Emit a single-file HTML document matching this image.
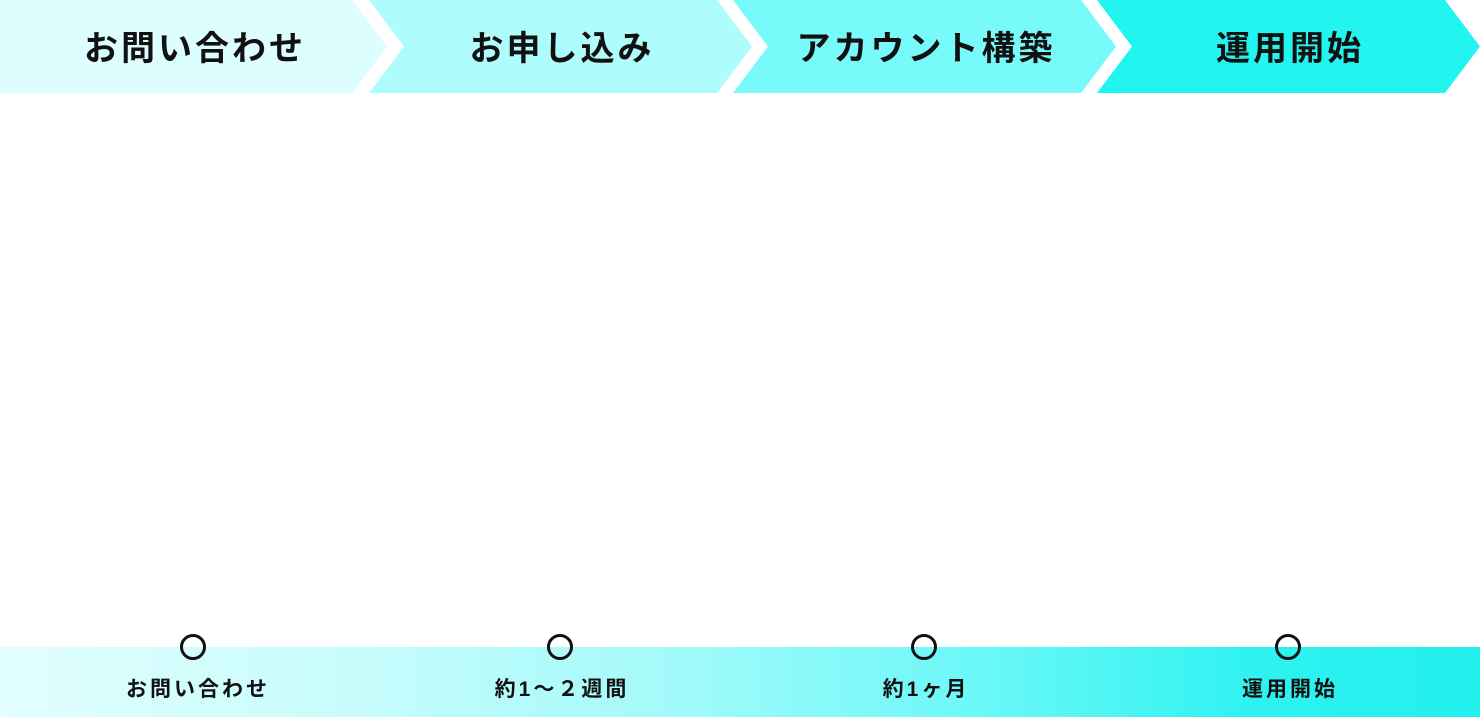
<!DOCTYPE html>
<html><head><meta charset="utf-8"><style>
body{margin:0;width:1480px;height:717px;background:#fff;position:relative;overflow:hidden;font-family:"Liberation Sans","Noto Sans CJK JP",sans-serif;font-weight:bold;color:#111}
.t{position:absolute;transform:translateX(-50%);white-space:nowrap}
.h{top:26px;font-size:34px;line-height:46px;letter-spacing:3px}
.b{top:677px;font-size:21px;line-height:26px;letter-spacing:3px}
.band{position:absolute;left:0;top:647px;width:1480px;height:70px;background:linear-gradient(90deg,#e2fefe 0%,#c6fcfc 25%,#a4fafa 45%,#6ef8f8 65%,#2ef2f0 85%,#22f0ee 100%)}
.c{position:absolute;top:634px;width:20px;height:20px;border:3px solid #111;border-radius:50%;background:transparent;transform:translateX(-50%)}
</style></head><body>
<svg width="1480" height="93" style="position:absolute;left:0;top:0">
<polygon points="0,0 352,0 387,46.5 352,93 0,93" fill="#dcfefe"/>
<polygon points="369,0 717,0 752,46.5 717,93 369,93 404,46.5" fill="#aefcfc"/>
<polygon points="733,0 1081,0 1116,46.5 1081,93 733,93 768,46.5" fill="#78fafa"/>
<polygon points="1097,0 1445,0 1480,46.5 1445,93 1097,93 1132,46.5" fill="#22f4f0"/>
</svg>
<div class="t h" style="left:195px">お問い合わせ</div>
<div class="t h" style="left:562px">お申し込み</div>
<div class="t h" style="left:926px">アカウント構築</div>
<div class="t h" style="left:1290px">運用開始</div>
<div class="band"></div>
<div class="c" style="left:193px"></div>
<div class="c" style="left:560px"></div>
<div class="c" style="left:924px"></div>
<div class="c" style="left:1288px"></div>
<div class="t b" style="left:198px">お問い合わせ</div>
<div class="t b" style="left:562px">約1～２週間</div>
<div class="t b" style="left:926px">約1ヶ月</div>
<div class="t b" style="left:1290px">運用開始</div>
</body></html>
